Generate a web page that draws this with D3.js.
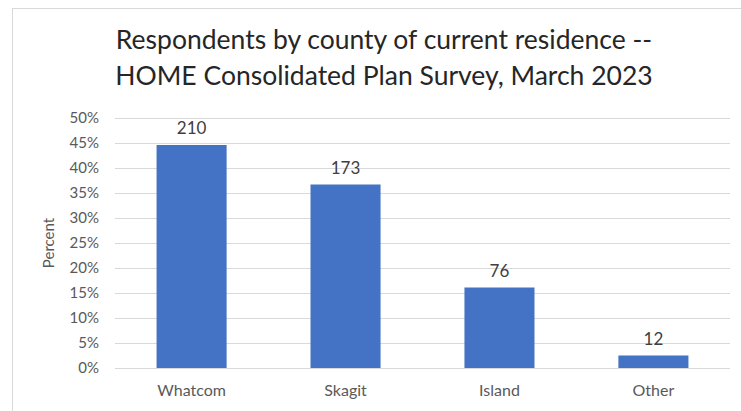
<!DOCTYPE html>
<html>
<head>
<meta charset="utf-8">
<script src="https://cdn.jsdelivr.net/npm/d3@7"></script>
<style>
  body { margin: 0; background: #fff; }
  text { font-family: Lato, "Open Sans", sans-serif; }
</style>
</head>
<body>
<div id="wrapper"></div>
<script>
const counties = ["Whatcom", "Skagit", "Island", "Other"];
const percents = [44.6, 36.7, 16.1, 2.5];
const counts = [210, 173, 76, 12];
const yTicks = [0, 5, 10, 15, 20, 25, 30, 35, 40, 45, 50];
const titleLines = ["Respondents by county of current residence --", "HOME Consolidated Plan Survey, March 2023"];

const data = counties.map((c, i) => ({ county: c, pct: percents[i], n: counts[i] }));

let dimensions = {
  width: 741,
  height: 411,
  margin: { top: 118, right: 11, bottom: 43, left: 115 },
};
dimensions.boundedWidth = dimensions.width - dimensions.margin.left - dimensions.margin.right;
dimensions.boundedHeight = dimensions.height - dimensions.margin.top - dimensions.margin.bottom;

const svg = d3.select("#wrapper").append("svg")
  .attr("width", dimensions.width)
  .attr("height", dimensions.height);

// chart border
svg.append("rect")
  .attr("x", 12.5).attr("y", 8.5)
  .attr("width", 740).attr("height", 420)
  .attr("fill", "none")
  .attr("stroke", "#d9d9d9");

const bounds = svg.append("g")
  .attr("transform", `translate(${dimensions.margin.left},${dimensions.margin.top})`);

const xScale = d3.scaleBand()
  .domain(counties)
  .range([0, dimensions.boundedWidth])
  .paddingInner(0.545)
  .paddingOuter(0.27);

const yScale = d3.scaleLinear()
  .domain([0, 50])
  .range([dimensions.boundedHeight, 0]);

// gridlines
bounds.append("g")
  .selectAll("line")
  .data(yTicks)
  .join("line")
  .attr("x1", 0)
  .attr("x2", dimensions.boundedWidth)
  .attr("y1", d => Math.round(yScale(d)) + 0.5)
  .attr("y2", d => Math.round(yScale(d)) + 0.5)
  .attr("stroke", "#d9d9d9")
  .attr("stroke-width", 1);

// y axis labels
const yAxisGenerator = d3.axisLeft(yScale)
  .tickValues(yTicks)
  .tickFormat(d => d + "%")
  .tickSize(0)
  .tickPadding(16);
const yAxis = bounds.append("g").call(yAxisGenerator);
yAxis.select(".domain").remove();
yAxis.selectAll("text")
  .attr("fill", "#595959")
  .style("font-size", "15px");

// x axis labels
const xAxisGenerator = d3.axisBottom(xScale).tickSize(0).tickPadding(17);
const xAxis = bounds.append("g")
  .attr("transform", `translate(0,${dimensions.boundedHeight})`)
  .call(xAxisGenerator);
xAxis.select(".domain").remove();
xAxis.selectAll("text")
  .attr("fill", "#595959")
  .style("font-size", "16px");

// bars
bounds.selectAll("rect.bar")
  .data(data)
  .join("rect")
  .attr("class", "bar")
  .attr("x", d => xScale(d.county))
  .attr("width", xScale.bandwidth())
  .attr("y", d => yScale(d.pct))
  .attr("height", d => dimensions.boundedHeight - yScale(d.pct))
  .attr("fill", "#4472c4");

// count labels
bounds.selectAll("text.count")
  .data(data)
  .join("text")
  .attr("class", "count")
  .attr("x", d => xScale(d.county) + xScale.bandwidth() / 2)
  .attr("y", d => yScale(d.pct) - 11)
  .attr("text-anchor", "middle")
  .attr("fill", "#404040")
  .style("font-size", "17px")
  .text(d => d.n);

// y axis title
svg.append("text")
  .attr("transform", `translate(54,${dimensions.margin.top + dimensions.boundedHeight / 2}) rotate(-90)`)
  .attr("text-anchor", "middle")
  .attr("fill", "#595959")
  .style("font-size", "15px")
  .text("Percent");

// title
svg.append("g")
  .selectAll("text")
  .data(titleLines)
  .join("text")
  .attr("x", 384)
  .attr("y", (d, i) => 49 + i * 36)
  .attr("text-anchor", "middle")
  .attr("fill", "#262626")
  .style("font-size", "26.5px")
  .text(d => d);
</script>
</body>
</html>
